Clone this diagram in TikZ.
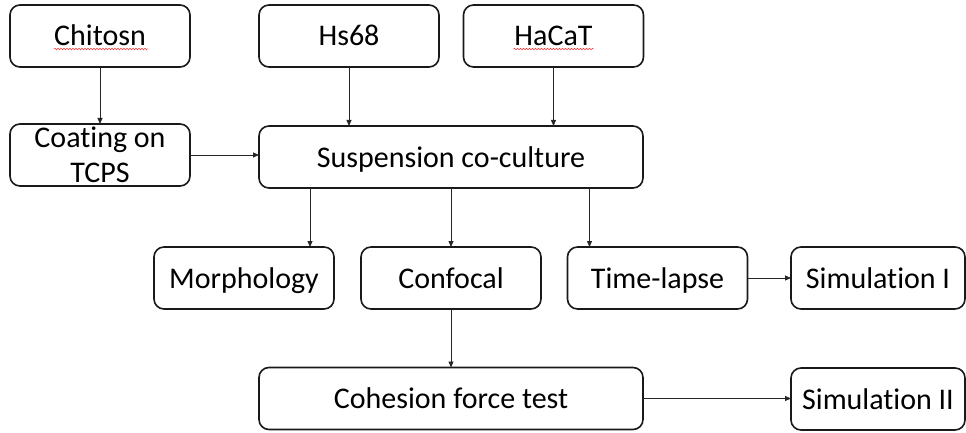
\documentclass[tikz,border=0pt]{standalone}
\usepackage{fontspec}
\setmainfont[Ligatures=NoCommon]{Carlito}
\usetikzlibrary{arrows.meta,calc,decorations.pathmorphing}
\begin{document}
\begin{tikzpicture}[x=1pt,y=-1pt,
  box/.style={draw=black!90,line width=1.6pt,rounded corners=10pt,minimum width=180pt,minimum height=62pt,inner sep=0pt,outer sep=0pt,font=\fontsize{30}{35}\selectfont,align=center},
  oneline/.style={box,text height=24pt,text depth=4pt},
  widebox/.style={oneline,minimum width=384pt},
  arr/.style={draw=black!85,line width=0.8pt,-{Triangle[length=6pt,width=5pt]}},
  squig/.style={draw=red!80,line width=0.5pt,decorate,decoration={snake,amplitude=0.8pt,segment length=3pt}}]
\useasboundingbox (0,0) rectangle (966,433);
\begin{scope}
\clip (0,0) rectangle (966,433);
\node[oneline] (chit) at (100,36) {Chitosn};
\node[oneline] (hs) at (349,36) {Hs68};
\node[oneline] (hacat) at (553.5,36) {HaCaT};
\node[box] (coat) at (100,155) {Coating on\\TCPS};
\node[widebox] (susp) at (451,157) {Suspension co-culture};
\node[oneline] (morph) at (244,278) {Morphology};
\node[oneline] (conf) at (451,278) {Confocal};
\node[oneline] (time) at (657.5,278) {Time-lapse};
\node[oneline,minimum width=174pt] (sim1) at (878,278) {Simulation I};
\node[widebox] (coh) at (451,398.5) {Cohesion force test};
\node[oneline,minimum width=174pt] (sim2) at (878,399) {Simulation II};
\end{scope}
\draw[squig] ($(chit.center)+(-46,13)$) -- ($(chit.center)+(48,13)$);
\draw[squig] ($(hacat.center)+(-40,13)$) -- ($(hacat.center)+(40,13)$);
\coordinate (mx) at ($(morph.north east)+(-24,0)$);
\coordinate (tx) at ($(time.north west)+(22,0)$);
\draw[arr] (chit) -- (coat);
\draw[arr] (hs.south) -- (hs.south |- susp.north);
\draw[arr] (hacat.south) -- (hacat.south |- susp.north);
\draw[arr] (coat.east) -- (coat.east -| susp.west);
\draw[arr] (susp.south -| mx) -- (mx);
\draw[arr] (susp.south -| conf.north) -- (conf.north);
\draw[arr] (susp.south -| tx) -- (tx);
\draw[arr] (time.east) -- (time.east -| sim1.west);
\draw[arr] (conf.south) -- (conf.south |- coh.north);
\draw[arr] (coh.east) -- (coh.east -| sim2.west);
\end{tikzpicture}
\end{document}
